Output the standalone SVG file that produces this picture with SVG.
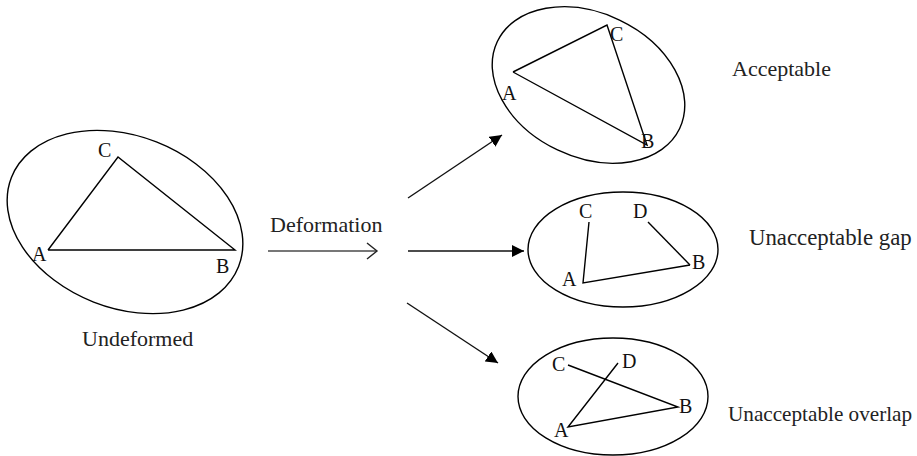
<svg xmlns="http://www.w3.org/2000/svg" width="917" height="456" viewBox="0 0 917 456">
<defs>
<style>
.shape{fill:none;stroke:#000;stroke-width:1.4}
.edge{fill:none;stroke:#111;stroke-width:1.4}
.lbl{font-family:"Liberation Serif","Times New Roman",serif;font-size:20px;fill:#111}
.cap{font-family:"Liberation Serif","Times New Roman",serif;font-size:22px;fill:#222}
</style>
<marker id="head" viewBox="0 0 10 10" refX="10" refY="5" markerWidth="12" markerHeight="12" markerUnits="userSpaceOnUse" orient="auto">
<path d="M0,0 L10,5 L0,10 Z" fill="#000"/>
</marker>
</defs>
<rect width="917" height="456" fill="#fff"/>
<g id="undeformed">
<ellipse class="shape" cx="125" cy="222" rx="122" ry="86" transform="rotate(21.4 125 222)"/>
<polyline class="shape" points="48,250 118,157 235,250 48,250"/>
<text class="lbl" x="98" y="157">C</text>
<text class="lbl" x="32" y="261">A</text>
<text class="lbl" x="216" y="273">B</text>
<text class="cap" x="82" y="346">Undeformed</text>
</g>
<g id="acceptable">
<ellipse class="shape" cx="588.5" cy="85" rx="101" ry="72" transform="rotate(25.5 588.5 85)"/>
<polyline class="shape" points="513,72 607,25 647,145 513,72"/>
<text class="lbl" x="502" y="100">A</text>
<text class="lbl" x="610" y="41">C</text>
<text class="lbl" x="641" y="148">B</text>
<text class="cap" x="732" y="76">Acceptable</text>
</g>
<g id="gap">
<ellipse class="shape" cx="623" cy="249.5" rx="95" ry="57.5"/>
<polyline class="shape" points="589,222 583,283 690,265"/>
<line class="shape" x1="648" y1="222" x2="690" y2="265"/>
<text class="lbl" x="579" y="218">C</text>
<text class="lbl" x="633" y="218">D</text>
<text class="lbl" x="562" y="286">A</text>
<text class="lbl" x="692" y="269">B</text>
<text class="cap" x="749" y="245" style="font-size:22.8px">Unacceptable gap</text>
</g>
<g id="overlap">
<ellipse class="shape" cx="613" cy="396.5" rx="95" ry="58.5"/>
<polyline class="shape" points="568,365 678,407 568,427 618,363"/>
<text class="lbl" x="552" y="371">C</text>
<text class="lbl" x="622" y="368">D</text>
<text class="lbl" x="554" y="437">A</text>
<text class="lbl" x="679" y="413">B</text>
<text class="cap" x="728" y="421" style="font-size:21.2px">Unacceptable overlap</text>
</g>
<g id="connectors">
<line x1="268" y1="251" x2="377" y2="251" stroke="#777" stroke-width="2"/>
<polyline points="367,243 377,251 367,259" fill="none" stroke="#222" stroke-width="1.4"/>
<text class="cap" x="270" y="232">Deformation</text>
<line class="edge" x1="408" y1="198" x2="502" y2="135" marker-end="url(#head)"/>
<line class="edge" x1="408" y1="251" x2="524" y2="251" marker-end="url(#head)"/>
<line class="edge" x1="407" y1="303" x2="498" y2="363" marker-end="url(#head)"/>
</g>
</svg>
